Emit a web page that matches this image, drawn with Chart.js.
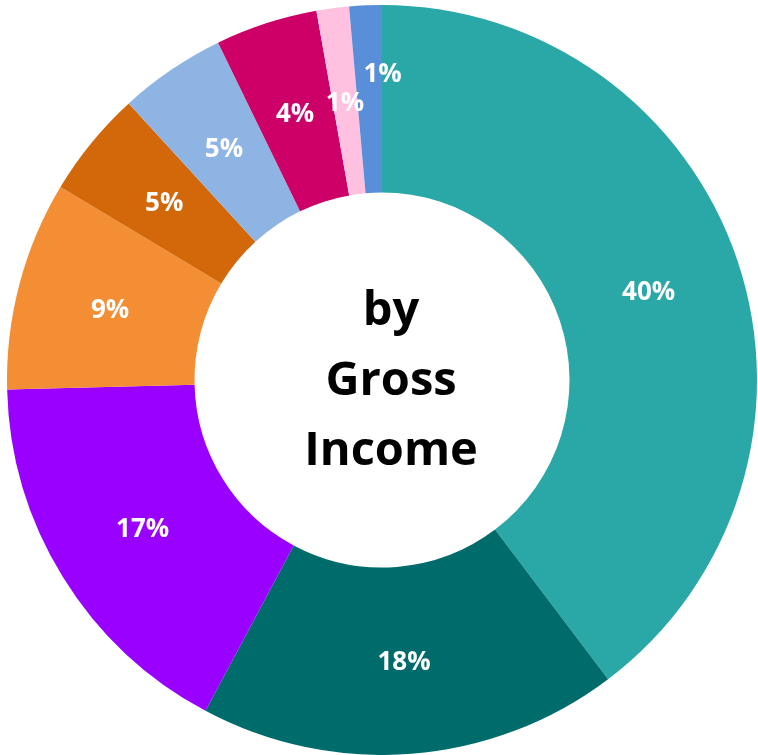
<!DOCTYPE html>
<html>
<head>
<meta charset="utf-8">
<script src="https://cdn.jsdelivr.net/npm/chart.js@4.4.1/dist/chart.umd.min.js"></script>
<style>
  html,body{margin:0;padding:0;background:#fff;}
  #wrap{width:758px;height:755px;position:relative;}
</style>
</head>
<body>
<div id="wrap"><canvas id="chart"></canvas></div>
<script>
// slices clockwise from 12 o'clock
const categories = ["A","B","C","D","E","F","G","H","I"];
const shares = [39.7, 18.1, 16.8, 9.0, 4.6, 4.6, 4.4, 1.4, 1.4];
const colors = ["#2AA8A8","#006B6B","#9900FF","#F48E34","#D2680A","#8EB4E3","#CC0066","#FFC1DF","#588FD8"];
const centerLines = ["by","Gross","Income"];

// white % labels in the middle of the ring
const sliceLabels = {
  id:"sliceLabels",
  afterDatasetsDraw(chart){
    const ctx = chart.ctx;
    const meta = chart.getDatasetMeta(0);
    const nudge = {8:[13,-26]};
    ctx.save();
    ctx.fillStyle = "#fff";
    ctx.font = "bold 26px 'Open Sans'";
    ctx.textAlign = "center";
    ctx.textBaseline = "middle";
    meta.data.forEach((arc,i)=>{
      const p = arc.tooltipPosition();
      const d = nudge[i] || [0,0];
      ctx.fillText(Math.round(shares[i]) + "%", p.x + d[0], p.y + d[1] + 2);
    });
    ctx.restore();
  }
};

const centerText = {
  id:"centerText",
  afterDatasetsDraw(chart){
    const ctx = chart.ctx;
    const arc = chart.getDatasetMeta(0).data[0];
    ctx.save();
    ctx.fillStyle = "#000";
    ctx.font = "bold 47px 'Open Sans'";
    ctx.textAlign = "center";
    ctx.textBaseline = "middle";
    centerLines.forEach((t,i)=>{
      ctx.fillText(t, arc.x + 9, arc.y - 68 + i*70);
    });
    ctx.restore();
  }
};

new Chart(document.getElementById("chart"),{
  type:"doughnut",
  data:{
    labels:categories,
    datasets:[{
      data:shares,
      backgroundColor:colors,
      borderWidth:0
    }]
  },
  options:{
    responsive:true,
    maintainAspectRatio:false,
    animation:false,
    cutout:"50%",
    layout:{padding:{left:6,top:5,right:0,bottom:0}},
    plugins:{
      legend:{display:false},
      tooltip:{enabled:false}
    }
  },
  plugins:[sliceLabels, centerText]
});
</script>
</body>
</html>
